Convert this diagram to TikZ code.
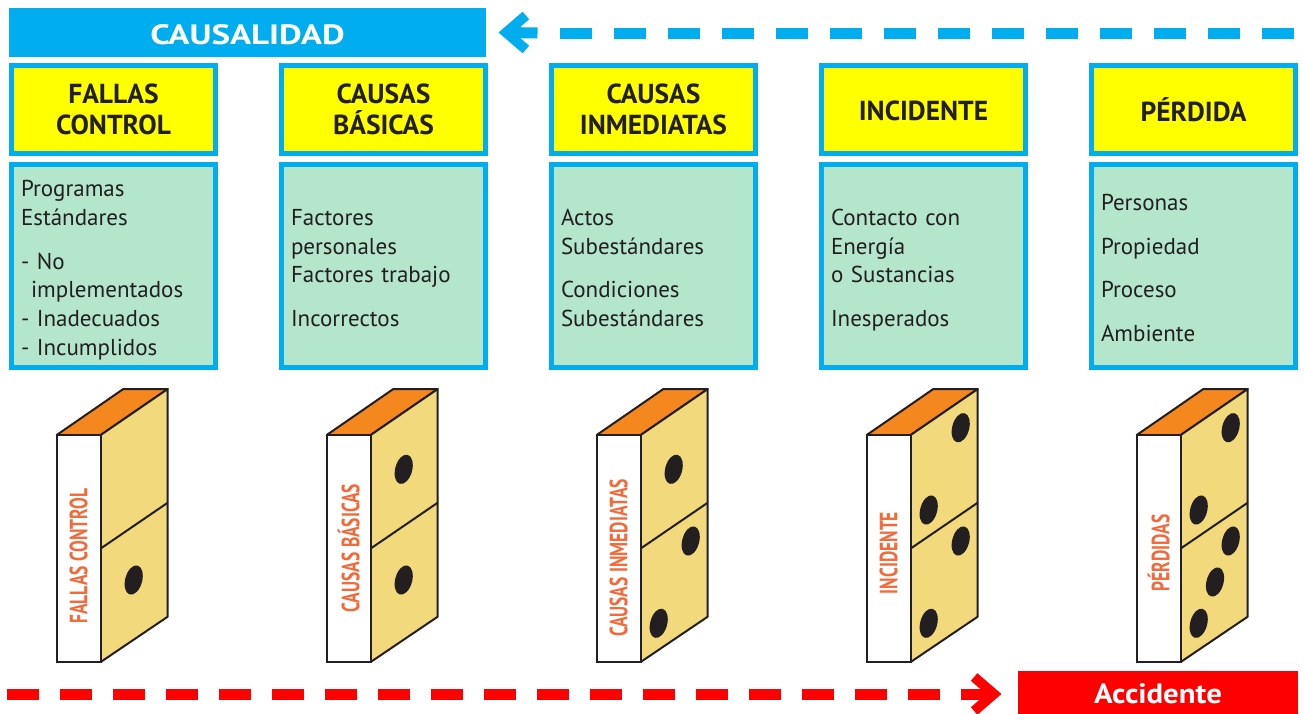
\documentclass[tikz,border=0pt]{standalone}
\usepackage{fontspec}
\setmainfont{PT Sans}
\usepackage{graphicx}
\usepackage{xcolor}
\usepackage{tikz}
\usetikzlibrary{shapes}
\definecolor{celeste}{HTML}{00AEEF}
\definecolor{amarillo}{HTML}{FFFF00}
\definecolor{verdeclaro}{HTML}{B3E6CA}
\definecolor{naranja}{HTML}{F5871F}
\definecolor{madera}{HTML}{F2D97B}
\definecolor{rotulo}{HTML}{F26A3A}
\definecolor{tinta}{HTML}{231F20}
\definecolor{rojo}{HTML}{FF0000}
\tikzstyle{titulo}=[rectangle,draw=celeste,line width=5pt,fill=amarillo,text=tinta,minimum width=204pt,minimum height=88pt,align=center,font=\bfseries\fontsize{27.5}{31}\selectfont,
  execute at begin node={\rule{0pt}{23pt}}]
\tikzstyle{detalle}=[rectangle,draw=celeste,line width=5pt,fill=verdeclaro,text=tinta,minimum width=204pt,minimum height=203pt,inner xsep=9.5pt,inner ysep=2pt,text width=185pt,align=left,font=\fontsize{23}{28.7}\selectfont,
  execute at begin node={\rule{0pt}{27pt}},execute at end node={\rule[-7pt]{0pt}{7pt}}]
\tikzstyle{banda}=[rectangle,inner sep=0pt,text=white,font=\bfseries\fontsize{28}{32}\selectfont]
\tikzstyle{canto}=[draw=tinta,line width=2pt,fill=white]
\tikzstyle{tapa}=[draw=tinta,line width=2pt,fill=naranja,line join=round]
\tikzstyle{cara}=[draw=tinta,line width=2pt,fill=madera,line join=round]
\tikzstyle{borde}=[draw=tinta,line width=2pt]
\tikzstyle{etiqueta}=[rotate=90,text=rotulo,inner sep=0pt,font=\bfseries\fontsize{25}{28}\selectfont]
\tikzstyle{punto}=[fill=tinta]
\tikzstyle{trazoazul}=[celeste,line width=11pt,dash pattern=on 32pt off 22pt]
\tikzstyle{puntaazul}=[celeste,line width=10pt]
\tikzstyle{trazorojo}=[rojo,line width=11pt,dash pattern=on 32pt off 21pt]
\tikzstyle{puntaroja}=[rojo,line width=10pt]

% ficha de domino: desplazamiento, nombre, rotulo, altura del rotulo, puntos
\newcommand{\ficha}[5]{%
  \begin{scope}[xshift=#1pt]
    \filldraw[tapa] (56.7,435) -- (123.3,389) -- (167.7,389) -- (100.7,435) -- cycle;
    \filldraw[cara] (100.7,435) -- (167.7,389) -- (167.7,616.7) -- (100.7,662) -- cycle;
    \filldraw[canto] (56.7,435) rectangle (100.7,662);
    \draw[borde] (100.7,548.5) -- (167.7,502.7);
    \node[etiqueta] (#2) at (78.7,#4) {\scalebox{0.7}[1]{#3}};
    \foreach \px/\py in {#5}
      \fill[punto] (\px,\py) ellipse [x radius=8.5pt,y radius=15pt,rotate=-15];
  \end{scope}}

\begin{document}
\begin{tikzpicture}[x=1pt,y=-1pt]
  \useasboundingbox (0,0) rectangle (1304,713);

  \node at (247.5,32.5) [banda,fill=celeste,minimum width=477pt,minimum height=49pt,text height=24pt,text depth=0pt] (causa) {\scalebox{1.25}[1]{CAUSALIDAD}};

  % encabezados
  \node at (113.5,109.5) [titulo] (t1) {FALLAS\\CONTROL};
  \node at (383.5,109.5) [titulo] (t2) {CAUSAS\\BÁSICAS};
  \node at (653.5,109.5) [titulo] (t3) {CAUSAS\\INMEDIATAS};
  \node at (923.5,109.5) [titulo] (t4) {INCIDENTE};
  \node at (1193.5,109.5) [titulo] (t5) {PÉRDIDA};

  % contenidos
  \node at (113.5,266) [detalle] (d1) {Programas\\Estándares\\[15pt]- No\\\hspace*{10pt}implementados\\- Inadecuados\\- Incumplidos};
  \node at (383.5,266) [detalle] (d2) {Factores\\personales\\Factores trabajo\\[15pt]Incorrectos};
  \node at (653.5,266) [detalle] (d3) {Actos\\Subestándares\\[15pt]Condiciones\\Subestándares};
  \node at (923.5,266) [detalle] (d4) {Contacto con\\Energía\\o Sustancias\\[15pt]Inesperados};
  \node at (1193.5,266) [detalle] (d5) {Personas\\[15pt]Propiedad\\[15pt]Proceso\\[15pt]Ambiente};

  % fichas
  \ficha{0}{f1}{FALLAS CONTROL}{556}{133.7/580}
  \ficha{270}{f2}{CAUSAS BÁSICAS}{548}{133.7/469.3, 133.7/580}
  \ficha{540}{f3}{CAUSAS INMEDIATAS}{558}{133.7/469.3, 150.7/541, 118.7/623.3}
  \ficha{810}{f4}{INCIDENTE}{553}{150.7/427.7, 118.7/510, 150.7/541, 118.7/623.3}
  \ficha{1080}{f5}{PÉRDIDAS}{553}{150.7/427.7, 118.7/510, 150.7/541, 135/582, 118.7/623.3}

  \node at (1158,694) [banda,fill=rojo,minimum width=280pt,minimum height=46pt] (accidente) {\scalebox{1.1}[1]{Accidente}};

  % flechas
  \coordinate (inicioazul) at (1293.5,33);
  \coordinate (codoazul) at (537.5,33);
  \coordinate (vertazul) at ([xshift=20pt]causa.east);
  \draw[trazoazul] (inicioazul) -- (codoazul);
  \draw[celeste,line width=11pt] (codoazul) -- (vertazul);
  \draw[puntaazul] ([shift={(19.7,-17)}]vertazul) -- (vertazul) -- ([shift={(19.7,17)}]vertazul);

  \coordinate (iniciorojo) at (7,694);
  \coordinate (codorojo) at (961,694);
  \coordinate (vertrojo) at ([xshift=-24pt]accidente.west);
  \draw[trazorojo] (iniciorojo) -- (codorojo);
  \draw[rojo,line width=11pt] (codorojo) -- (vertrojo);
  \draw[puntaroja] ([shift={(-19.7,-17)}]vertrojo) -- (vertrojo) -- ([shift={(-19.7,17)}]vertrojo);
\end{tikzpicture}
\end{document}
